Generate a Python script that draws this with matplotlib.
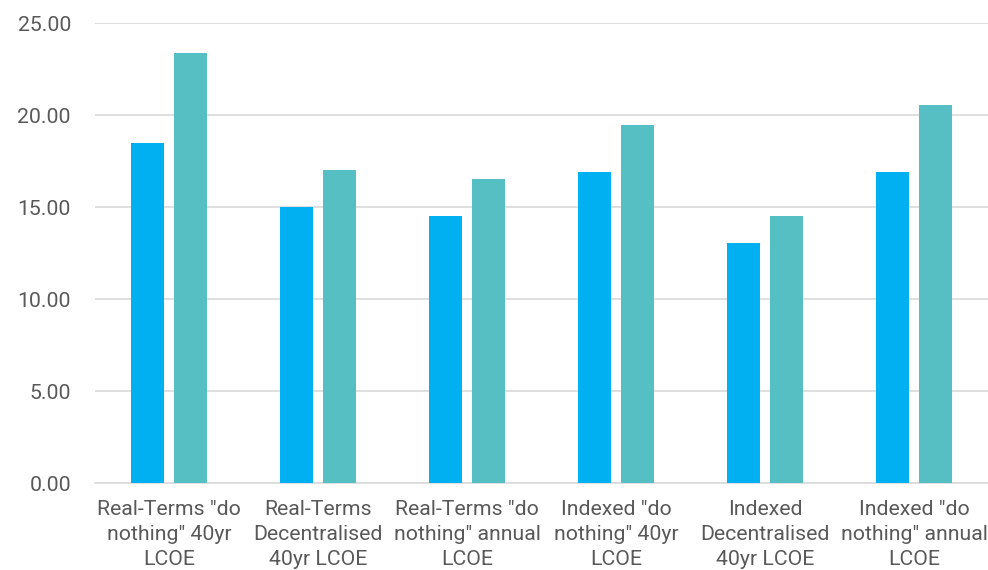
import matplotlib.pyplot as plt
import numpy as np

plt.rcParams['font.family'] = ['Roboto', 'DejaVu Sans']

categories = ['Real-Terms "do\nnothing" 40yr\nLCOE', 'Real-Terms\nDecentralised\n40yr LCOE',
              'Real-Terms "do\nnothing" annual\nLCOE', 'Indexed "do\nnothing" 40yr\nLCOE',
              'Indexed\nDecentralised\n40yr LCOE', 'Indexed "do\nnothing" annual\nLCOE']
series_a = [18.50, 15.00, 14.50, 16.90, 13.05, 16.90]
series_b = [23.37, 17.00, 16.52, 19.45, 14.50, 20.53]
yticks = [0, 5, 10, 15, 20, 25]

fig = plt.figure(figsize=(9.88, 5.70), dpi=100)
ax = fig.add_axes([0.0957, 0.1526, 0.9048, 0.807])

x = np.arange(len(categories))
w = 0.223
ax.bar(x - 0.145, series_a, width=w, color='#00B0F0', zorder=3)
ax.bar(x + 0.145, series_b, width=w, color='#56BFC3', zorder=3)

ax.set_xlim(-0.5, len(categories) - 0.5)
ax.set_ylim(0, 25)
ax.set_yticks(yticks)
ax.set_yticklabels([f'{v:.2f}' for v in yticks])
ax.set_xticks(x)
ax.set_xticklabels(categories, linespacing=1.4)

ax.grid(axis='y', color='#D9D9D9', linewidth=1.2, zorder=0)
for s in ['top', 'right', 'left']:
    ax.spines[s].set_visible(False)
ax.spines['bottom'].set_color('#D9D9D9')
ax.spines['bottom'].set_linewidth(1.2)
ax.tick_params(axis='both', length=0, labelsize=15.3, labelcolor='#595959')
ax.tick_params(axis='y', pad=17)
ax.tick_params(axis='x', pad=12)

plt.savefig('out.png', dpi=100)
